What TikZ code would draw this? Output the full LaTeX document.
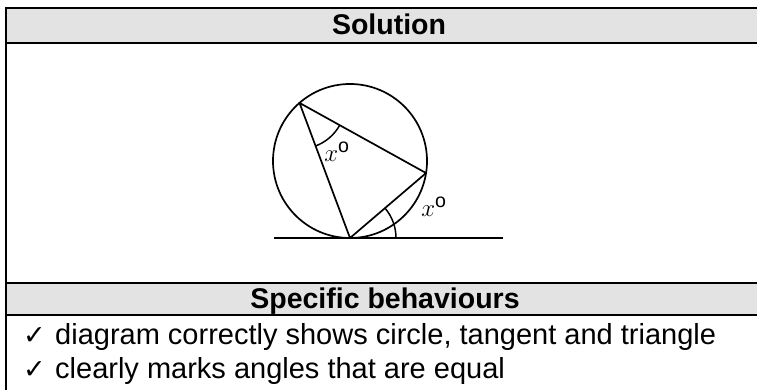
\documentclass[tikz,border=0pt]{standalone}
\usepackage{fontspec}
\setmainfont{Liberation Sans}
\newfontfamily\tickfont{DejaVu Sans}
\usetikzlibrary{positioning,calc}

\begin{document}
\begin{tikzpicture}[
    x=1pt, y=-1pt,
    rule/.style={draw=black, line width=2pt},
    headrow/.style={fill=black!11},
    headtext/.style={font=\fontsize{28.5}{32}\selectfont\bfseries},
    itemtext/.style={font=\fontsize{29}{32}\selectfont, anchor=base west, inner sep=0pt},
    ticktext/.style={font=\tickfont\fontsize{27}{27}\selectfont, anchor=base west, inner sep=0pt},
    geo/.style={line width=1.7pt},
    anglemark/.style={line width=1.5pt},
    anglelabel/.style={font=\fontsize{28}{28}\selectfont, inner sep=0pt}
]
\useasboundingbox (0,0) rectangle (757,390);

% table frame
\fill[headrow] (6,8) rectangle (757,43);
\fill[headrow] (6,283) rectangle (757,315);
\draw[rule] (6,8) -- (757,8);
\draw[rule] (6,43) -- (757,43);
\draw[rule] (6,283) -- (757,283);
\draw[rule] (6,315) -- (757,315);
\draw[rule] (6,7) -- (6,390);

\node[headtext] (solution) at (389,24.5) {Solution};
\node[headtext] (behaviours) at (385,301) {Specific behaviours};

% diagram
\coordinate (centre) at (350,161);
\draw[geo] (centre) circle[radius=77];
\coordinate (vA) at ($(centre)+(229:77)$);
\coordinate (vB) at ($(centre)+(9:77)$);
\coordinate (vT) at ($(centre)+(90:77)$);
\coordinate (tanL) at (274,238);
\coordinate (tanR) at (503,238);
\draw[geo] (tanL) -- (tanR);
\draw[geo, line join=round] (vA) -- (vB) -- (vT) -- cycle;

\draw[anglemark] (vA) ++(29:46) arc[start angle=29, end angle=69.5, radius=46];
\draw[anglemark] (vT) ++(0:46) arc[start angle=0, end angle=-40.5, radius=46];

\node[anglelabel] (xA) at (337,152) {$x^{\mathrm{o}}$};
\node[anglelabel] (xT) at (434,207) {$x^{\mathrm{o}}$};

% specific behaviours
\node[ticktext] (tick1) at (23,344) {✓};
\node[itemtext] (item1) at (55,344) {diagram correctly shows circle, tangent and triangle};
\node[ticktext] (tick2) at (23,378) {✓};
\node[itemtext] (item2) at (55,378) {clearly marks angles that are equal};
\end{tikzpicture}
\end{document}
